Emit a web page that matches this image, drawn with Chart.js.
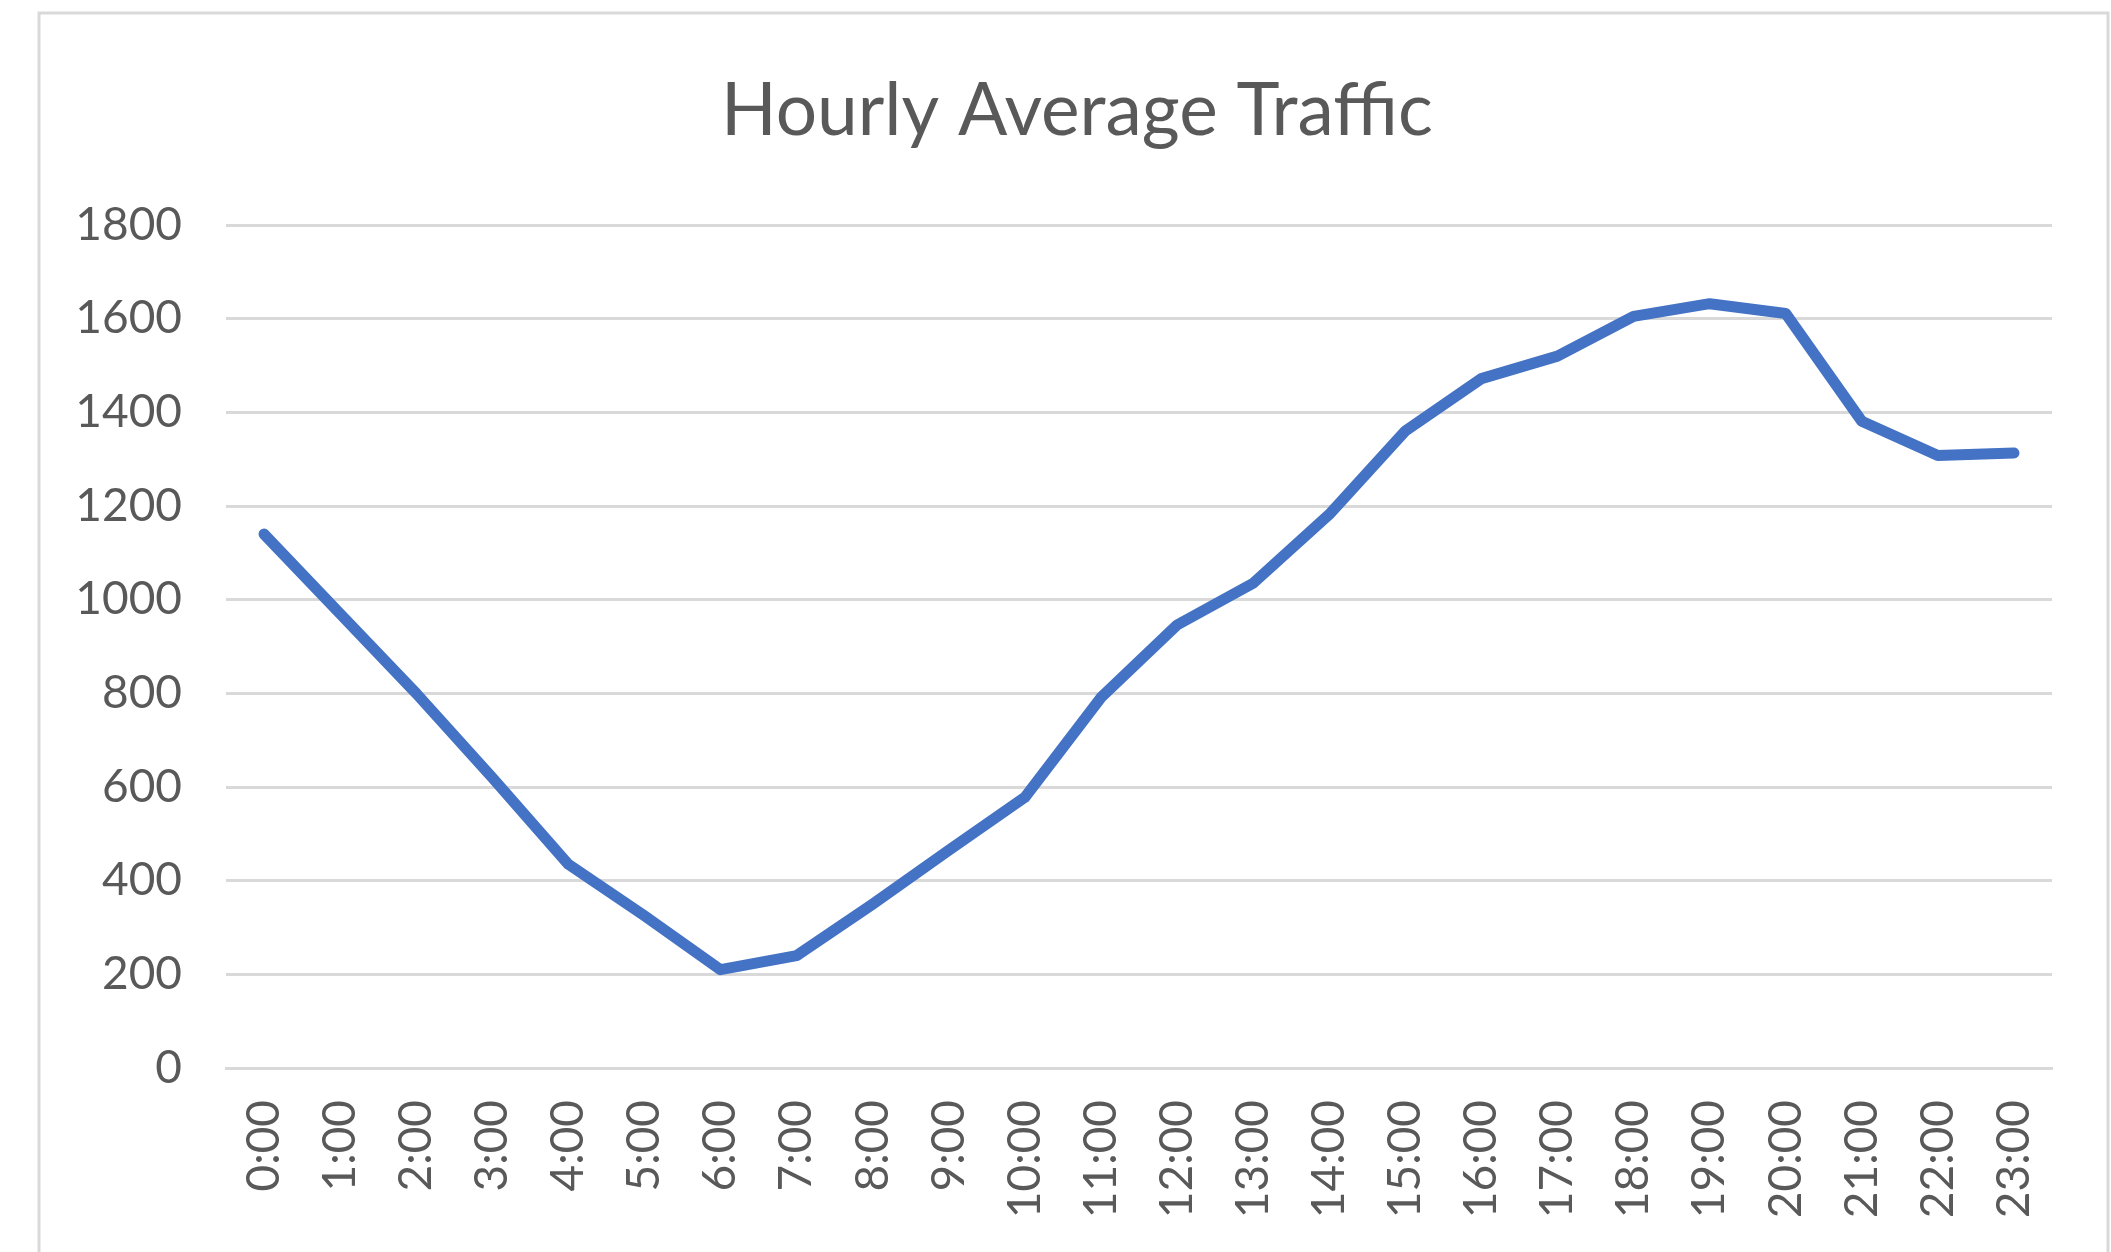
<!DOCTYPE html>
<html>
<head>
<meta charset="utf-8">
<script src="https://cdn.jsdelivr.net/npm/chart.js@4.4.0/dist/chart.umd.min.js"></script>
<style>
  html, body { margin: 0; padding: 0; background: #ffffff; overflow: hidden; }
  #wrap { position: absolute; left: 0; top: 0; width: 2111px; height: 1252px; }
</style>
</head>
<body>
<div id="wrap"><canvas id="c" width="2111" height="1252"></canvas></div>
<script>
const chartTitle = "Hourly Average Traffic";
const hours = ["0:00","1:00","2:00","3:00","4:00","5:00","6:00","7:00","8:00","9:00","10:00","11:00",
               "12:00","13:00","14:00","15:00","16:00","17:00","18:00","19:00","20:00","21:00","22:00","23:00"];
const traffic = [1140, 970, 800, 620, 435, 325, 210, 240, 350, 465, 578, 791,
                 946, 1035, 1182, 1360, 1472, 1520, 1605, 1632, 1611, 1381, 1308, 1313];
const yMin = 0, yMax = 1800, yStep = 200;

const textColor = "#595959";
const gridColor = "#d9d9d9";
const lineColor = "#4472C4";

const framePlugin = {
  id: "frameAndTitle",
  beforeDraw(chart) {
    const ctx = chart.ctx;
    ctx.save();
    ctx.fillStyle = "#ffffff";
    ctx.fillRect(0, 0, chart.width, chart.height);
    ctx.strokeStyle = gridColor;
    ctx.lineWidth = 3;
    ctx.beginPath();
    ctx.moveTo(39, chart.height + 5);
    ctx.lineTo(39, 13);
    ctx.lineTo(2108, 13);
    ctx.lineTo(2108, chart.height + 5);
    ctx.stroke();
    ctx.restore();
  },
  afterDraw(chart) {
    const ctx = chart.ctx;
    ctx.save();
    ctx.fillStyle = textColor;
    ctx.font = "normal 73px Lato";
    ctx.textAlign = "center";
    ctx.textBaseline = "alphabetic";
    ctx.fillText(chartTitle, 1077, 135);
    ctx.restore();
  }
};

new Chart(document.getElementById("c"), {
  type: "line",
  data: {
    labels: hours,
    datasets: [{
      label: "Traffic",
      data: traffic,
      borderColor: lineColor,
      backgroundColor: lineColor,
      borderWidth: 11,
      borderCapStyle: "round",
      borderJoinStyle: "round",
      pointRadius: 0,
      pointHoverRadius: 0,
      tension: 0,
      fill: false
    }]
  },
  options: {
    responsive: false,
    animation: false,
    devicePixelRatio: 1,
    layout: { padding: { left: 0, right: 59, top: 225, bottom: 0 } },
    plugins: {
      legend: { display: false },
      tooltip: { enabled: false },
      title: { display: false }
    },
    scales: {
      x: {
        offset: true,
        grid: { display: false, drawTicks: false },
        border: { display: true, color: gridColor, width: 3 },
        ticks: {
          color: textColor,
          font: { family: "Lato", size: 46 },
          minRotation: 90,
          maxRotation: 90,
          padding: 32,
          autoSkip: false
        },
        afterFit(scale) { scale.height = 184; }
      },
      y: {
        min: yMin,
        max: yMax,
        grid: { color: gridColor, lineWidth: 3, drawTicks: false },
        border: { display: false },
        ticks: {
          stepSize: yStep,
          color: textColor,
          font: { family: "Lato", size: 46 },
          padding: 44,
          callback: (v) => String(v)
        },
        afterFit(scale) { scale.width = 226; }
      }
    }
  },
  plugins: [framePlugin]
});
</script>
</body>
</html>
